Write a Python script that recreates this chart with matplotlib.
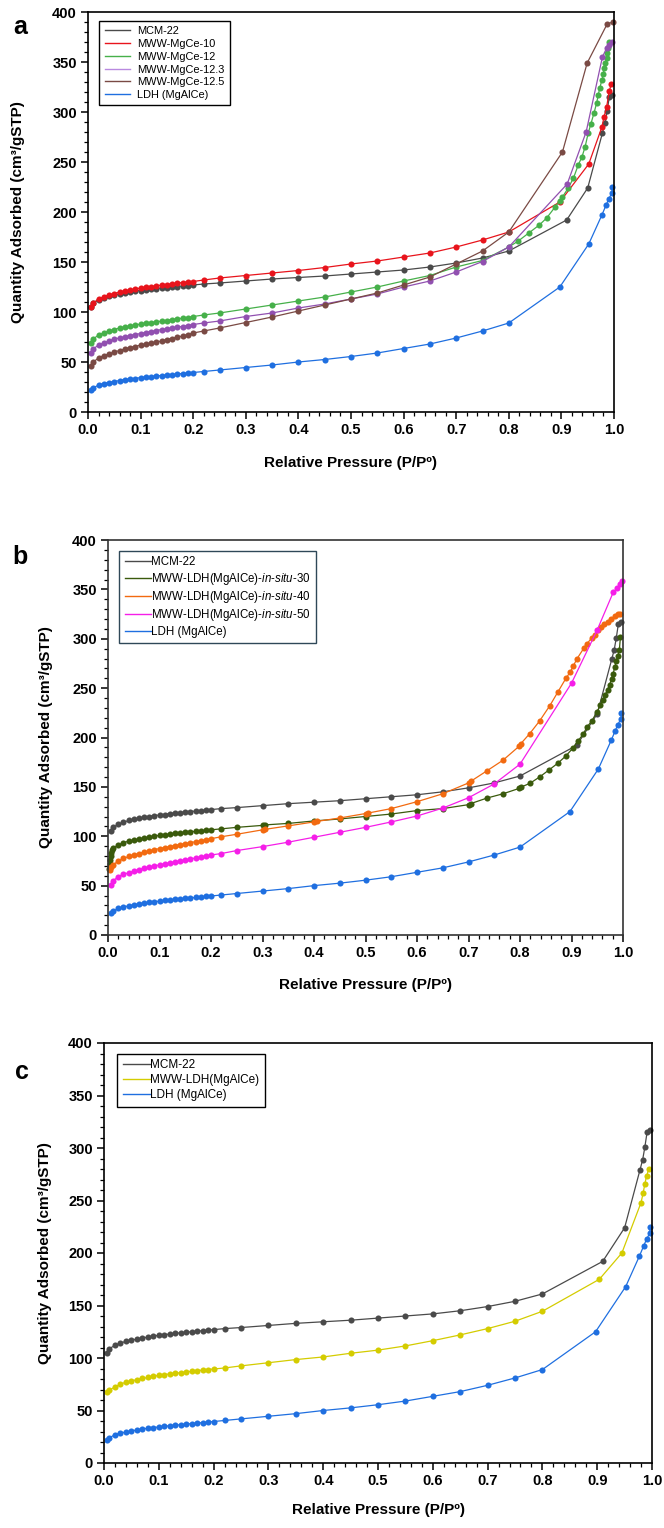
import matplotlib
matplotlib.use('Agg')
import matplotlib.pyplot as plt
from matplotlib.lines import Line2D
from matplotlib.ticker import MultipleLocator, AutoMinorLocator, FormatStrFormatter

plt.rcParams['font.family'] = ['Liberation Sans', 'DejaVu Sans']
plt.rcParams['mathtext.fontset'] = 'custom'
plt.rcParams['mathtext.rm'] = 'Liberation Sans'
plt.rcParams['mathtext.it'] = 'Liberation Sans:italic'

# relative pressure points shared by most isotherms (low/mid range)
p_iso = [0.005, 0.01, 0.02, 0.03, 0.04, 0.05, 0.06, 0.07, 0.08, 0.09, 0.10,
         0.11, 0.12, 0.13, 0.14, 0.15, 0.16, 0.17, 0.18, 0.19, 0.20,
         0.22, 0.25, 0.30, 0.35, 0.40, 0.45, 0.50, 0.55, 0.60, 0.65, 0.70,
         0.75, 0.80]

# MCM-22
mcm_p = p_iso + [0.91, 0.95, 0.978, 0.983, 0.987, 0.991, 0.996]
mcm_v = [105, 109, 112, 114, 116, 117, 118, 119, 120, 121, 121.5, 122, 123,
         123.5, 124, 124.5, 125, 125.5, 126, 126.5, 127,
         128, 129, 131, 133, 134.5, 136, 138, 140, 142, 145, 149, 154, 161,
         192, 224, 279, 289, 301, 315, 317]

# LDH (MgAlCe)
ldh_p = p_iso + [0.897, 0.952, 0.977, 0.985, 0.990, 0.996, 0.997]
ldh_v = [22, 24, 27, 28.5, 29.5, 30.5, 31.5, 32.5, 33, 33.5, 34.5, 35, 35.5,
         36, 36.5, 37, 37.5, 38, 38.5, 39, 39.5,
         40.5, 42, 44.5, 47, 50, 52.5, 55.5, 59, 63.5, 68, 74, 81, 89,
         125, 168, 197, 207, 213, 219, 225]

# panel a
mgce10_p = p_iso + [0.897, 0.952, 0.977, 0.981, 0.986, 0.991, 0.995]
mgce10_v = [105, 109, 113, 115, 117, 118.5, 120, 121, 122, 123, 124, 125,
            125.5, 126, 127, 127.5, 128, 129, 129.5, 130, 130.5,
            132, 134, 136.5, 139, 141.5, 144.5, 148, 151, 155, 159, 165, 172,
            180, 210, 248, 285, 295, 305, 321, 328]

mgce12_p = p_iso + [0.818, 0.838, 0.858, 0.872, 0.888, 0.897, 0.902, 0.913,
                    0.923, 0.932, 0.939, 0.945, 0.951, 0.956, 0.962, 0.967,
                    0.970, 0.973, 0.977, 0.980, 0.981, 0.983, 0.986, 0.987,
                    0.989, 0.991]
mgce12_v = [69, 73, 77, 79, 81, 82.5, 84, 85, 86, 87, 88, 89, 89.5, 90, 91,
            91.5, 92.5, 93, 94, 94.5, 95.5,
            97, 99, 103, 107, 111, 115, 120, 125, 131, 136.5, 145, 151.5, 165,
            171, 179, 187, 194, 205, 211, 215, 224, 234, 247, 255, 265, 279,
            288, 299, 309, 317, 324, 332, 338, 344, 349, 354, 359, 364, 370]

mgce123_p = p_iso + [0.911, 0.947, 0.978, 0.986, 0.991, 0.997]
mgce123_v = [59, 63, 67, 69, 71, 73, 74, 75, 76.5, 77.5, 78.5, 79.5, 80.5,
             81.5, 82.5, 83, 84, 85, 85.5, 86.5, 87.5,
             89, 91, 95.5, 99, 104, 108, 113, 118, 125, 131, 140, 150.5, 165,
             228, 280, 355, 364, 367, 370]

mgce125_p = p_iso + [0.902, 0.949, 0.987, 0.998]
mgce125_v = [46, 50, 54, 56.5, 58, 60, 61.5, 63, 64.5, 65.5, 67, 68, 69, 70,
             71, 72.5, 73.5, 75, 76, 77.5, 79,
             81, 84, 89.5, 95, 101, 107, 113, 119, 127, 135, 148, 161, 180,
             260, 349, 388, 390]

# panel b
situ30_p = [0.002, 0.003, 0.004, 0.005, 0.006, 0.008, 0.01, 0.02, 0.03, 0.04,
            0.05, 0.06, 0.07, 0.08, 0.09, 0.10, 0.11, 0.12, 0.13, 0.14, 0.15,
            0.16, 0.17, 0.18, 0.19, 0.20, 0.22, 0.25, 0.30, 0.305, 0.35, 0.40,
            0.45, 0.50, 0.55, 0.60, 0.65, 0.70, 0.704,
            0.736, 0.767, 0.798, 0.802, 0.819, 0.838, 0.857, 0.874, 0.889,
            0.903, 0.913, 0.923, 0.930, 0.939, 0.949, 0.956, 0.961, 0.966,
            0.970, 0.974, 0.978, 0.981, 0.984, 0.987, 0.990, 0.993, 0.995]
situ30_v = [67, 72, 76, 80, 83, 86, 88, 91, 93.5, 95, 96, 97, 98, 99, 100,
            101, 101.5, 102, 103, 103.5, 104, 104.5, 105, 105.5, 106, 106.5,
            107.5, 109, 111, 111.5, 113, 115.5, 117.5, 120, 122.5, 126, 128,
            132, 133,
            138.7, 143, 148.4, 149.8, 153.5, 160, 167.4, 174.2, 181.3, 189.4,
            196.8, 203.6, 210.7, 216.4, 225.5, 232.6, 238.4, 243.5, 248.6,
            253.6, 259.4, 264.8, 271.2, 277.3, 283, 289, 302]

situ40_p = [0.003, 0.005, 0.01, 0.02, 0.03, 0.04, 0.05, 0.06, 0.07, 0.08,
            0.09, 0.10, 0.11, 0.12, 0.13, 0.14, 0.15, 0.16, 0.17, 0.18, 0.19,
            0.20, 0.22, 0.25, 0.30, 0.305, 0.35, 0.40, 0.405, 0.45, 0.50,
            0.505, 0.55, 0.60, 0.65, 0.70, 0.704,
            0.735, 0.767, 0.798, 0.801, 0.819, 0.838, 0.858, 0.874, 0.890,
            0.898, 0.903, 0.911, 0.924, 0.930, 0.939, 0.945, 0.952, 0.958,
            0.964, 0.971, 0.977, 0.984, 0.990, 0.995]
situ40_v = [66, 69, 71, 75, 77.5, 79.5, 81, 82.5, 84, 85, 86.5, 87.5, 88.5,
            89.5, 90.5, 91.5, 92.5, 93.5, 94.5, 95.5, 96.5, 97.5, 99.5, 102,
            106.5, 107, 110.5, 114.5, 115, 118.5, 123, 123.5, 128, 135, 143,
            154, 155.5,
            166, 177, 191, 193.4, 204, 216.7, 232.3, 246.5, 260.7, 266.5, 272,
            280, 290.5, 295, 300.6, 304, 308.4, 311.5, 314.5, 317.2, 320.3,
            322.6, 324.6, 325.3]

situ50_p = p_iso + [0.90, 0.95, 0.981, 0.988, 0.995, 0.999]
situ50_v = [51, 55, 59, 61.5, 63, 64.5, 66, 67.5, 68.5, 70, 71, 72, 73, 74,
            75, 76, 77, 78, 79, 80, 81,
            82.5, 85.5, 89.5, 94, 99, 104, 109, 114.5, 120.5, 128.5, 139, 153,
            173, 255, 309, 347, 351, 355, 358]

# panel c
mwwldh_p = p_iso + [0.904, 0.945, 0.980, 0.984, 0.987, 0.990, 0.994]
mwwldh_v = [68, 69.5, 72.5, 75, 77, 78, 79.5, 80.5, 81.5, 82.5, 83.5, 84, 85,
            85.5, 86, 86.5, 87.5, 88, 88.5, 89, 89.5,
            90.5, 92.5, 95.5, 98.5, 101, 104.5, 107.5, 111.5, 116.5, 122, 128,
            135, 144.5, 175, 200, 248, 257.5, 266, 273, 280]

c_mcm = '#4a4a4a'
c_ldh = '#1f6fe0'

fig = plt.figure(figsize=(6.64, 15.28), dpi=100)
W, H = 664, 1528


def make_axes(left, top, right, bottom):
    return fig.add_axes([left / W, 1 - bottom / H, (right - left) / W,
                         (bottom - top) / H])


def draw(ax, p, v, color):
    ax.plot(p, v, '-o', color=color, lw=0.9, ms=4.4, mew=0, clip_on=False)


def style(ax, xlab_y, ylab_x, frame='black'):
    ax.set_xlim(0, 1.0)
    ax.set_ylim(0, 400)
    ax.xaxis.set_major_locator(MultipleLocator(0.1))
    ax.xaxis.set_minor_locator(AutoMinorLocator(5))
    ax.xaxis.set_major_formatter(FormatStrFormatter('%.1f'))
    ax.yaxis.set_major_locator(MultipleLocator(50))
    ax.yaxis.set_minor_locator(AutoMinorLocator(5))
    ax.tick_params(which='major', direction='out', length=5, width=1.1,
                   labelsize=10.5, pad=3)
    ax.tick_params(which='minor', direction='out', length=3, width=0.9)
    for lab in ax.get_xticklabels() + ax.get_yticklabels():
        lab.set_fontweight('bold')
    for s in ax.spines.values():
        s.set_linewidth(1.2)
        s.set_color(frame)
    ax.set_xlabel('Relative Pressure (P/Pº)', fontsize=11, fontweight='bold')
    ax.set_ylabel('Quantity Adsorbed (cm³/gSTP)', fontsize=11,
                  fontweight='bold')
    ax.xaxis.set_label_coords(0.5, xlab_y)
    ax.yaxis.set_label_coords(ylab_x, 0.5)


def legend(ax, entries, x, y, fs, edge, tpad, spacing):
    handles = [Line2D([], [], color=c, lw=1.0) for c, _ in entries]
    labels = [t for _, t in entries]
    lg = ax.legend(handles, labels, loc='upper left', bbox_to_anchor=(x, y),
                   borderaxespad=0, fontsize=fs, fancybox=False,
                   framealpha=1, edgecolor=edge, handlelength=2.3,
                   handletextpad=tpad, labelspacing=spacing,
                   borderpad=0.5)
    lg.get_frame().set_linewidth(1.0)


# ---- panel a ----
ax1 = make_axes(88, 12, 614, 412)
series_a = [
    (mcm_p, mcm_v, c_mcm),
    (mgce10_p, mgce10_v, '#e8141c'),
    (mgce12_p, mgce12_v, '#46b04a'),
    (mgce123_p, mgce123_v, '#9150b0'),
    (mgce125_p, mgce125_v, '#7a4a44'),
    (ldh_p, ldh_v, c_ldh),
]
for p, v, c in series_a:
    draw(ax1, p, v, c)
style(ax1, -0.11, -0.12)
legend(ax1, [(c_mcm, 'MCM-22'), ('#e8141c', 'MWW-MgCe-10'),
             ('#46b04a', 'MWW-MgCe-12'), ('#b98ae0', 'MWW-MgCe-12.3'),
             ('#7a4a44', 'MWW-MgCe-12.5'), (c_ldh, 'LDH (MgAlCe)')],
       0.021, 0.978, 7.9, 'black', 0.7, 0.25)

# ---- panel b ----
ax2 = make_axes(108, 540, 623, 935)
series_b = [
    (mcm_p, mcm_v, c_mcm),
    (situ30_p, situ30_v, '#3a5a0c'),
    (situ40_p, situ40_v, '#f26a10'),
    (situ50_p, situ50_v, '#f51ee8'),
    (ldh_p, ldh_v, c_ldh),
]
for p, v, c in series_b:
    draw(ax2, p, v, c)
style(ax2, -0.109, -0.107, frame='#333333')
legend(ax2, [(c_mcm, 'MCM-22'),
             ('#3a5a0c', r'MWW-LDH(MgAlCe)-$\it{in}$-$\it{situ}$-30'),
             ('#f26a10', r'MWW-LDH(MgAlCe)-$\it{in}$-$\it{situ}$-40'),
             ('#f51ee8', r'MWW-LDH(MgAlCe)-$\it{in}$-$\it{situ}$-50'),
             (c_ldh, 'LDH (MgAlCe)')],
       0.021, 0.973, 8.3, '#2f4858', 0.0, 0.2)

# ---- panel c ----
ax3 = make_axes(104, 1043, 652, 1463)
series_c = [
    (mcm_p, mcm_v, c_mcm),
    (mwwldh_p, mwwldh_v, '#d4cc00'),
    (ldh_p, ldh_v, c_ldh),
]
for p, v, c in series_c:
    draw(ax3, p, v, c)
style(ax3, -0.095, -0.095)
legend(ax3, [(c_mcm, 'MCM-22'), ('#d4cc00', 'MWW-LDH(MgAlCe)'),
             (c_ldh, 'LDH (MgAlCe)')],
       0.023, 0.975, 8.5, 'black', 0.0, 0.25)

# panel letters
fig.text(20 / W, 1 - 27 / H, 'a', fontsize=18, fontweight='bold',
         ha='center', va='center')
fig.text(20 / W, 1 - 557 / H, 'b', fontsize=18, fontweight='bold',
         ha='center', va='center')
fig.text(22 / W, 1 - 1072 / H, 'c', fontsize=18, fontweight='bold',
         ha='center', va='center')

fig.savefig('out.png', dpi=100)
